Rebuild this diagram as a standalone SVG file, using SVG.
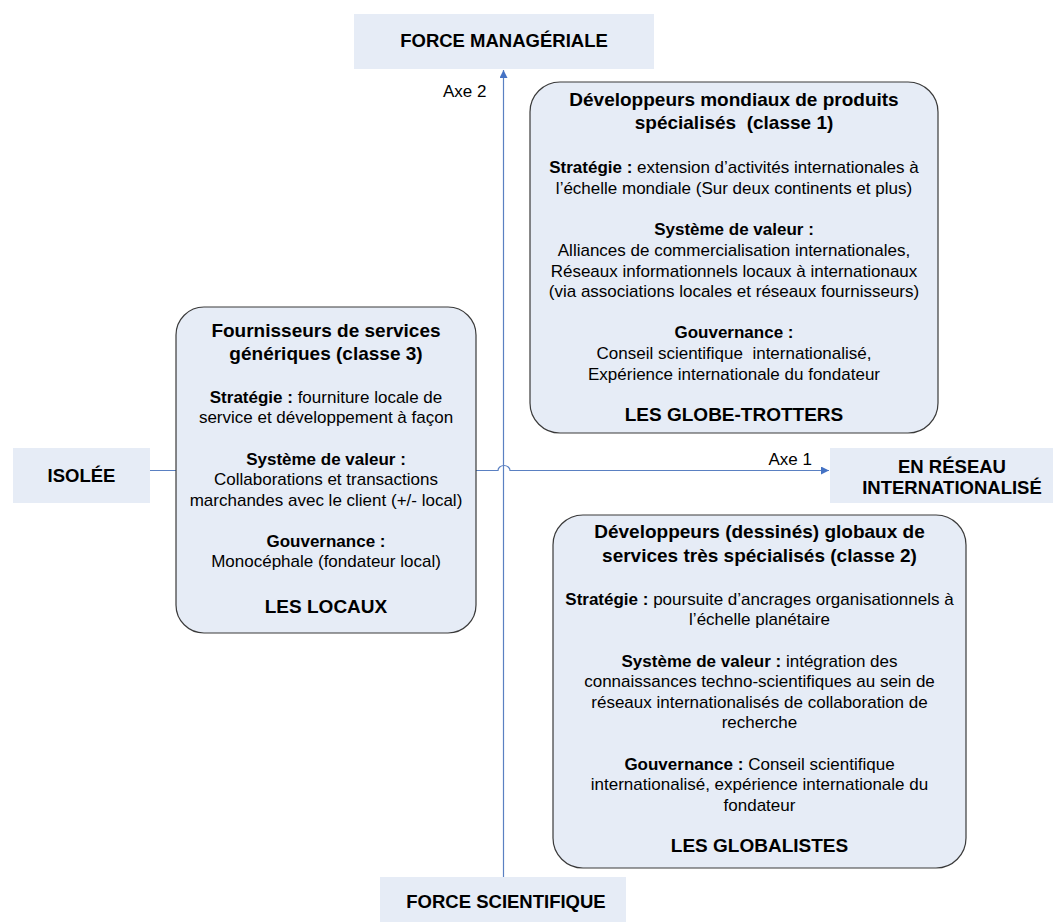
<svg xmlns="http://www.w3.org/2000/svg" width="1061" height="922" viewBox="0 0 1061 922">
<style>
text{font-family:"Liberation Sans",Arial,sans-serif;fill:#000}
.t{font-size:19px;font-weight:bold;text-anchor:middle}
.b{font-weight:bold}
.p{font-size:17px;text-anchor:middle}
.ax{font-size:18.5px;font-weight:bold;text-anchor:middle}
.lbl{font-size:17px}
.lab{fill:#E6ECF6}
.node{fill:#E6ECF6;stroke:#3a3a3a;stroke-width:1.2}
.axis{fill:none;stroke:#5A80C2;stroke-width:1.2}
.pre{white-space:pre}
</style>
<defs>
<marker id="arr" viewBox="0 0 10 10" refX="10" refY="5" markerWidth="8" markerHeight="8" markerUnits="userSpaceOnUse" orient="auto">
<path d="M0,0 L10,5 L0,10 z" fill="#4472C4"/>
</marker>
</defs>

<g id="label-force-manageriale">
<rect class="lab" x="354" y="14" width="300" height="55"/>
<text class="ax" x="504" y="47">FORCE MANAGÉRIALE</text>
</g>
<g id="label-isolee">
<rect class="lab" x="13" y="448" width="137" height="55"/>
<text class="ax" x="81.5" y="482">ISOLÉE</text>
</g>
<g id="label-en-reseau">
<rect class="lab" x="830" y="448" width="223" height="55"/>
<text class="ax" x="952" y="473">EN RÉSEAU</text>
<text class="ax" x="952" y="494">INTERNATIONALISÉ</text>
</g>
<g id="label-force-scientifique">
<rect class="lab" x="380" y="877" width="246" height="60"/>
<text class="ax" x="506" y="908">FORCE SCIENTIFIQUE</text>
</g>

<g id="connectors">
<path class="axis" d="M503.5,877 V70" marker-end="url(#arr)"/>
<path class="axis" d="M150,470.5 H498 A6,5 0 0 1 510,470.5 H829" marker-end="url(#arr)"/>
<text class="lbl" x="443" y="97">Axe 2</text>
<text class="lbl" x="812" y="465" text-anchor="end">Axe 1</text>
</g>

<g id="node-classe1">
<rect class="node" x="530" y="82" width="408" height="351" rx="30" ry="30"/>
<text class="t" x="734" y="106">Développeurs mondiaux de produits</text>
<text class="t pre" x="734" y="129">spécialisés  (classe 1)</text>
<text class="p" x="734" y="173"><tspan class="b">Stratégie :</tspan> extension d’activités internationales à</text>
<text class="p" x="734" y="194">l’échelle mondiale (Sur deux continents et plus)</text>
<text class="p b" x="734" y="235">Système de valeur :</text>
<text class="p" x="734" y="256">Alliances de commercialisation internationales,</text>
<text class="p" x="734" y="277">Réseaux informationnels locaux à internationaux</text>
<text class="p" x="734" y="297">(via associations locales et réseaux fournisseurs)</text>
<text class="p b" x="734" y="338">Gouvernance :</text>
<text class="p pre" x="734" y="359">Conseil scientifique  internationalisé,</text>
<text class="p" x="734" y="380">Expérience internationale du fondateur</text>
<text class="t" x="734" y="421">LES GLOBE-TROTTERS</text>
</g>

<g id="node-classe3">
<rect class="node" x="176" y="307" width="300" height="326" rx="28" ry="28"/>
<text class="t" x="326" y="337">Fournisseurs de services</text>
<text class="t" x="326" y="360">génériques (classe 3)</text>
<text class="p" x="326" y="403"><tspan class="b">Stratégie :</tspan> fourniture locale de</text>
<text class="p" x="326" y="423">service et développement à façon</text>
<text class="p b" x="326" y="465">Système de valeur :</text>
<text class="p" x="326" y="485">Collaborations et transactions</text>
<text class="p" x="326" y="506">marchandes avec le client (+/- local)</text>
<text class="p b" x="326" y="547">Gouvernance :</text>
<text class="p" x="326" y="567">Monocéphale (fondateur local)</text>
<text class="t" x="326" y="613">LES LOCAUX</text>
</g>

<g id="node-classe2">
<rect class="node" x="553" y="515" width="413" height="353" rx="30" ry="30"/>
<text class="t" x="759.5" y="538">Développeurs (dessinés) globaux de</text>
<text class="t" x="759.5" y="562">services très spécialisés (classe 2)</text>
<text class="p" x="759.5" y="605"><tspan class="b">Stratégie :</tspan> poursuite d’ancrages organisationnels à</text>
<text class="p" x="759.5" y="625">l’échelle planétaire</text>
<text class="p" x="759.5" y="667"><tspan class="b">Système de valeur :</tspan> intégration des</text>
<text class="p" x="759.5" y="687">connaissances techno-scientifiques au sein de</text>
<text class="p" x="759.5" y="708">réseaux internationalisés de collaboration de</text>
<text class="p" x="759.5" y="728">recherche</text>
<text class="p" x="759.5" y="770"><tspan class="b">Gouvernance :</tspan> Conseil scientifique</text>
<text class="p" x="759.5" y="790">internationalisé, expérience internationale du</text>
<text class="p" x="759.5" y="811">fondateur</text>
<text class="t" x="759.5" y="852">LES GLOBALISTES</text>
</g>
</svg>
